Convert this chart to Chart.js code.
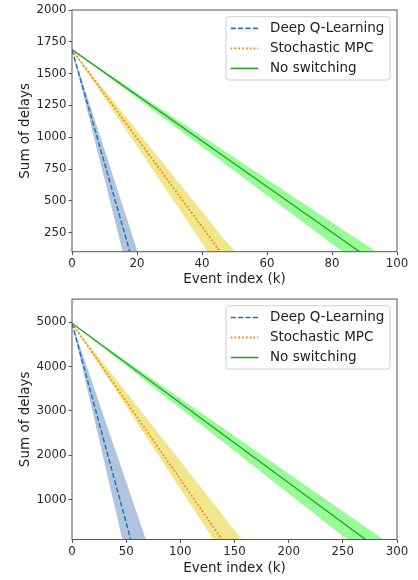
<!DOCTYPE html>
<html>
<head>
<meta charset="utf-8">
<script src="https://cdn.jsdelivr.net/npm/chart.js@4.4.0/dist/chart.umd.min.js"></script>
<style>
  body { margin: 0; background: #fff; }
  canvas { display: block; }
</style>
</head>
<body>
<canvas id="topChart" width="418" height="290"></canvas>
<canvas id="bottomChart" width="418" height="290"></canvas>
<script>
const seriesLabels = ['Deep Q-Learning', 'Stochastic MPC', 'No switching'];

// top panel, points are [event index (k), sum of delays]
const topTicksX  = [0, 20, 40, 60, 80, 100];
const topTicksY  = [250, 500, 750, 1000, 1250, 1500, 1750, 2000];
const topDqMean  = [[0, 1688], [17.8, 100]];
const topDqLow   = [[0, 1688], [15.6, 100]];
const topDqHigh  = [[0, 1688], [20.2, 100]];
const topMpcMean = [[0, 1688], [45.6, 100]];
const topMpcLow  = [[0, 1688], [41.8, 100]];
const topMpcHigh = [[0, 1688], [46.3, 215], [50.3, 100]];
const topNsMean  = [[0, 1688], [88.5, 100]];
const topNsLow   = [[0, 1688], [83.3, 100]];
const topNsHigh  = [[0, 1688], [93.6, 100]];

// bottom panel
const botTicksX  = [0, 50, 100, 150, 200, 250, 300];
const botTicksY  = [1000, 2000, 3000, 4000, 5000];
const botDqMean  = [[0, 4980], [54.2, 100]];
const botDqLow   = [[0, 4980], [46.5, 100]];
const botDqHigh  = [[0, 4980], [68.2, 100]];
const botMpcMean = [[0, 4980], [138.5, 100]];
const botMpcLow  = [[0, 4980], [130.5, 100]];
const botMpcHigh = [[0, 4980], [156.8, 100]];
const botNsMean  = [[0, 4980], [271, 100]];
const botNsLow   = [[0, 4980], [254, 100]];
const botNsHigh  = [[0, 4980], [287.5, 100]];

const FONT = "'DejaVu Sans', sans-serif";
const SPINE = '#555';

const lineStyles = [
  { color: '#1f77b4', dash: [5, 2.4], width: 1.5 },
  { color: '#ff7f0e', dash: [1.7, 2.1], width: 1.7 },
  { color: '#2ca02c', dash: [], width: 1.4 }
];
const bandColors = ['#b0c4de', '#f0e68c', '#98fb98'];

// frame + matplotlib-like legend inside the axes
const framePlugin = {
  id: 'frame',
  afterDraw(chart) {
    const { ctx, chartArea: a } = chart;
    ctx.save();
    ctx.strokeStyle = SPINE;
    ctx.lineWidth = 1;
    ctx.strokeRect(a.left, a.top, a.right - a.left, a.bottom - a.top);

    const w = 164, h = 63.3;
    const bx = a.right - 7 - w, by = a.top + 6.7;
    ctx.beginPath();
    ctx.roundRect(bx, by, w, h, 3);
    ctx.fillStyle = 'rgba(255,255,255,0.8)';
    ctx.fill();
    ctx.strokeStyle = '#d0d0d0';
    ctx.stroke();

    ctx.font = '13.5px ' + FONT;
    ctx.textBaseline = 'middle';
    chart.data.datasets.slice(0, 3).forEach((ds, i) => {
      const y = by + 11.7 + i * 20;
      ctx.beginPath();
      ctx.setLineDash(ds.borderDash);
      ctx.strokeStyle = ds.borderColor;
      ctx.lineWidth = ds.borderWidth + 0.2;
      ctx.moveTo(bx + 4.7, y);
      ctx.lineTo(bx + 32.3, y);
      ctx.stroke();
      ctx.setLineDash([]);
      ctx.fillStyle = '#222';
      ctx.fillText(ds.label, bx + 44, y);
    });
    ctx.restore();
  }
};

function band(low, high) {
  return low.concat(high.slice().reverse());
}

function makeChart(id, p) {
  const lines = p.means.map((m, i) => ({
    label: seriesLabels[i],
    data: m,
    borderColor: lineStyles[i].color,
    borderDash: lineStyles[i].dash,
    borderWidth: lineStyles[i].width,
    borderCapStyle: 'butt',
    pointRadius: 0,
    fill: false,
    tension: 0
  }));
  const bands = p.bands.map((b, i) => ({
    label: 'band' + i,
    data: band(b[0], b[1]),
    backgroundColor: bandColors[i],
    borderColor: 'rgba(0,0,0,0)',
    borderWidth: 0,
    pointRadius: 0,
    fill: 'shape',
    tension: 0
  }));

  return new Chart(document.getElementById(id), {
    type: 'line',
    data: { datasets: lines.concat(bands) },
    options: {
      responsive: false,
      animation: false,
      layout: { padding: { left: 0, right: 21, top: p.top, bottom: 0 } },
      plugins: { legend: { display: false }, tooltip: { enabled: false } },
      scales: {
        x: {
          type: 'linear',
          min: p.xMin, max: p.xMax,
          afterBuildTicks: s => { s.ticks = p.ticksX.map(v => ({ value: v })); },
          afterFit: s => { s.height = p.xHeight; },
          grid: { display: true, drawOnChartArea: false, drawTicks: true, tickLength: 3.5, color: SPINE },
          border: { display: false },
          ticks: { font: { family: FONT, size: 11.8 }, color: '#262626', padding: 2, maxRotation: 0,
                   callback: v => String(v) },
          title: {
            display: true, text: 'Event index (k)', color: '#222',
            font: { family: FONT, size: 13.5 }, padding: { top: 0, bottom: p.xTitlePad }
          }
        },
        y: {
          type: 'linear',
          min: p.yMin, max: p.yMax,
          afterBuildTicks: s => { s.ticks = p.ticksY.map(v => ({ value: v })); },
          afterFit: s => { s.width = 72; },
          grid: { display: true, drawOnChartArea: false, drawTicks: true, tickLength: 3.5, color: SPINE },
          border: { display: false },
          ticks: { font: { family: FONT, size: 11.8 }, color: '#262626', padding: 2,
                   callback: v => String(v) },
          title: {
            display: true, text: 'Sum of delays', color: '#222',
            font: { family: FONT, size: 13.5 }, padding: { top: 17, bottom: 0 }
          }
        }
      }
    },
    plugins: [framePlugin]
  });
}

makeChart('topChart', {
  means: [topDqMean, topMpcMean, topNsMean],
  bands: [[topDqLow, topDqHigh], [topMpcLow, topMpcHigh], [topNsLow, topNsHigh]],
  xMin: 0, xMax: 100, yMin: 100, yMax: 2000,
  ticksX: topTicksX, ticksY: topTicksY,
  top: 10, xHeight: 38.3, xTitlePad: 2
});

makeChart('bottomChart', {
  means: [botDqMean, botMpcMean, botNsMean],
  bands: [[botDqLow, botDqHigh], [botMpcLow, botMpcHigh], [botNsLow, botNsHigh]],
  xMin: 0, xMax: 300, yMin: 100, yMax: 5525,
  ticksX: botTicksX, ticksY: botTicksY,
  top: 8.3, xHeight: 40.5, xTitlePad: 3.4
});
</script>
</body>
</html>
